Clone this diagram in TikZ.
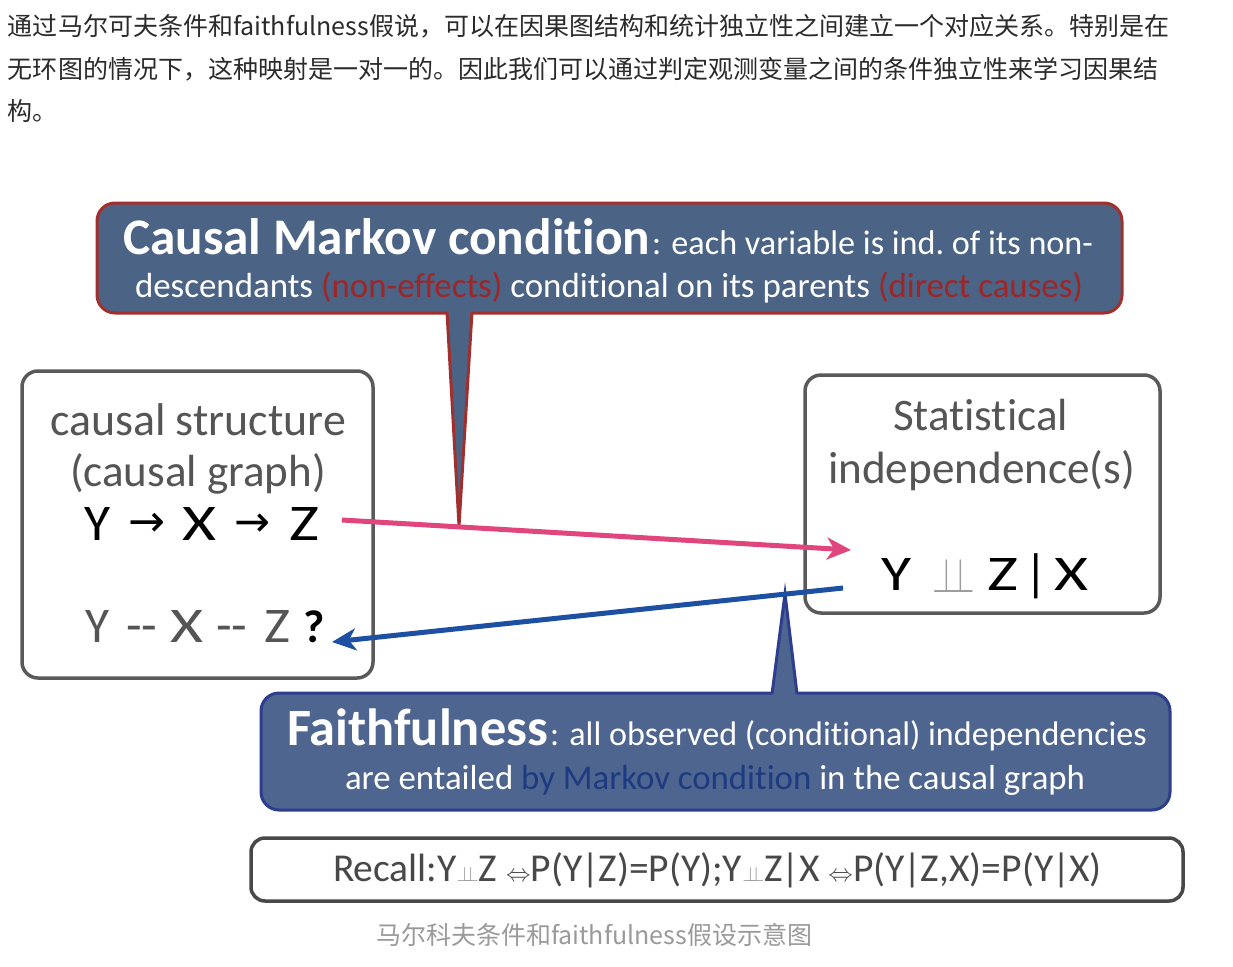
\documentclass[tikz,border=0pt]{standalone}
\usepackage{fontspec}
\usepackage{graphicx}
\usetikzlibrary{arrows.meta}
\setmainfont{Carlito}[Ligatures={NoCommon}]
\newfontfamily\cjk{Noto Sans CJK SC}
\newfontfamily\djv{DejaVu Sans}
\definecolor{txtdark}{HTML}{2B2B2B}
\definecolor{capgray}{HTML}{9A9A9A}
\definecolor{mkfill}{HTML}{4B6385}
\definecolor{mkborder}{HTML}{A0302E}
\definecolor{mkred}{HTML}{9E2626}
\definecolor{ffill}{HTML}{4E6590}
\definecolor{fborder}{HTML}{2F3D8F}
\definecolor{fblue}{HTML}{1C3B80}
\definecolor{boxgray}{HTML}{5A5A5A}
\definecolor{textgray}{HTML}{555555}
\definecolor{lightgray}{HTML}{9C9C9C}
\definecolor{recallgray}{HTML}{484848}
\definecolor{pinkarrow}{HTML}{E0457D}
\definecolor{bluearrow}{HTML}{1D4FA2}
\newcommand\fitw[2]{\resizebox{#1pt}{!}{#2}}
\newcommand\fitwh[3]{\resizebox{#1pt}{#2pt}{#3}}
\newcommand\smalldbl{{\color{lightgray}\scalebox{0.85}{$\perp\mkern-9mu\perp$}}}
\begin{document}
\begin{tikzpicture}[x=1pt,y=-1pt,
  every node/.style={inner sep=0pt,outer sep=0pt},
  cjktext/.style={anchor=base west,font=\cjk\fontsize{25}{30}\selectfont,text=txtdark},
  captext/.style={anchor=base west,font=\cjk\fontsize{25}{30}\selectfont,text=capgray},
  plain/.style={anchor=base west,font=\fontsize{40}{40}\selectfont},
  big/.style={anchor=base west,font=\fontsize{51}{51}\selectfont},
  roundbox/.style={draw=boxgray,line width=3.5pt,rounded corners=16pt,fill=white},
  mkshape/.style={fill=mkfill,draw=mkborder,line width=3pt,rounded corners=18pt},
  fshape/.style={fill=ffill,draw=fborder,line width=3pt,rounded corners=18pt},
  arrowline/.style={line width=5pt,-{Stealth[length=24pt,width=22pt,inset=7pt]}}]
\useasboundingbox (0,0) rectangle (1233,966);
\fill[white] (0,0) rectangle (1233,966);

% --- Chinese paragraph ---
\node[cjktext] (p1) at (8,36) {通过马尔可夫条件和faithfulness假说，可以在因果图结构和统计独立性之间建立一个对应关系。特别是在};
\node[cjktext] (p2) at (8,78) {无环图的情况下，这种映射是一对一的。因此我们可以通过判定观测变量之间的条件独立性来学习因果结};
\node[cjktext] (p3) at (8,120) {构。};

% --- Causal Markov callout ---
\filldraw[mkshape] (97,203) rectangle (1122,313);
\fill[mkfill] (446.7,309) -- (459,526) -- (472.3,309) -- cycle;
\draw[mkborder,line width=3pt] (447,312) -- (459,526) -- (472,312);
\node[plain,text=white] (mk1a) at (123,254) {\fitw{527}{\bfseries Causal Markov condition}};
\node[plain,text=white] (mk1b) at (652,254) {\fitw{441}{: each variable is ind.\ of its non-}};
\node[plain,text=white] (mk2) at (135,297) {\fitw{948}{descendants \textcolor{mkred}{(non-effects)} conditional on its parents \textcolor{mkred}{(direct causes)}}};

% --- causal structure box ---
\node[roundbox,minimum width=351,minimum height=307] (causal) at (197.5,524.5) {};
\node[plain,text=textgray] (cs1) at (50,435) {\fitw{296}{causal structure}};
\node[plain,text=textgray] (cs2) at (70,486) {\fitw{256}{(causal graph)}};
\node[big,text=black] (y1) at (84,540) {\fitwh{26}{33}{Y}};
\node[anchor=base west,text=black] (a1) at (128,536) {\fitw{37}{\djv →}};
\node[big,text=black] (x1) at (182,540) {\fitwh{34}{33}{X}};
\node[anchor=base west,text=black] (a2) at (234,536) {\fitw{36}{\djv →}};
\node[big,text=black] (z1) at (289,540) {\fitwh{30}{33}{Z}};
\node[big,text=textgray] (y2) at (85,642) {\fitwh{24}{32}{Y}};
\node[big,text=textgray] (d1) at (126,642) {-{}-};
\node[big,text=textgray] (x2) at (170,642) {\fitwh{33}{32}{X}};
\node[big,text=textgray] (d2) at (216,642) {-{}-};
\node[big,text=textgray] (z2) at (264,642) {\fitwh{26}{32}{Z}};
\node[big,text=black,font=\fontsize{46}{46}\selectfont\bfseries] (q) at (303,642) {?};

% --- statistical independence box ---
\node[roundbox,minimum width=355,minimum height=238] (stat) at (982.5,494) {};
\node[plain,text=textgray] (st1) at (893,430) {\fitw{175}{Statistical}};
\node[plain,text=textgray] (st2) at (828,483) {\fitw{307}{independence(s)}};
\node[big,text=black] (y3) at (881,590) {\fitwh{30}{32}{Y}};
\node[anchor=base west,text=lightgray] (ci) at (932,592) {\resizebox{43pt}{34pt}{$\perp\mkern-7mu\perp$}};
\node[big,text=black] (z3) at (987,590) {\fitwh{31}{32}{Z}};
\node[big,text=black] (bar) at (1024,590) {|};
\node[big,text=black] (x3) at (1054,590) {\fitwh{34}{32}{X}};

% --- Faithfulness callout ---
\filldraw[fshape] (261,693) rectangle (1170,810);
\fill[ffill] (771.6,697) -- (785,594) -- (797.4,697) -- cycle;
\draw[fborder,line width=3pt] (772,694) -- (785,594) -- (797,694);
\node[plain,text=white] (ff1a) at (287,745) {\fitw{261}{\bfseries Faithfulness}};
\node[plain,text=white] (ff1b) at (550,745) {\fitw{597}{: all observed (conditional) independencies}};
\node[plain,text=white] (ff2) at (345,789) {\fitw{740}{are entailed \textcolor{fblue}{by Markov condition} in the causal graph}};

% --- Recall box ---
\node[roundbox,draw=recallgray,rounded corners=14pt,minimum width=932,minimum height=63] (recall) at (717,869.5) {};
\node[plain,text=recallgray] (rc) at (333,881) {\fitw{769}{Recall:Y\smalldbl Z $\Leftrightarrow$P(Y\kern-1pt|\kern-1ptZ)=P(Y);Y\smalldbl Z\kern-1pt|\kern-1ptX $\Leftrightarrow$P(Y\kern-1pt|\kern-1ptZ,X)=P(Y\kern-1pt|\kern-1ptX)}};

% --- caption ---
\node[captext] (cap) at (376,944) {马尔科夫条件和faithfulness假设示意图};

% --- arrows ---
\coordinate (pinkS) at (342,520);
\coordinate (pinkE) at (851,550);
\coordinate (blueS) at (843,588);
\coordinate (blueE) at (332,642);
\draw[arrowline,pinkarrow] (pinkS) -- (pinkE);
\draw[arrowline,bluearrow] (blueS) -- (blueE);
\end{tikzpicture}
\end{document}
